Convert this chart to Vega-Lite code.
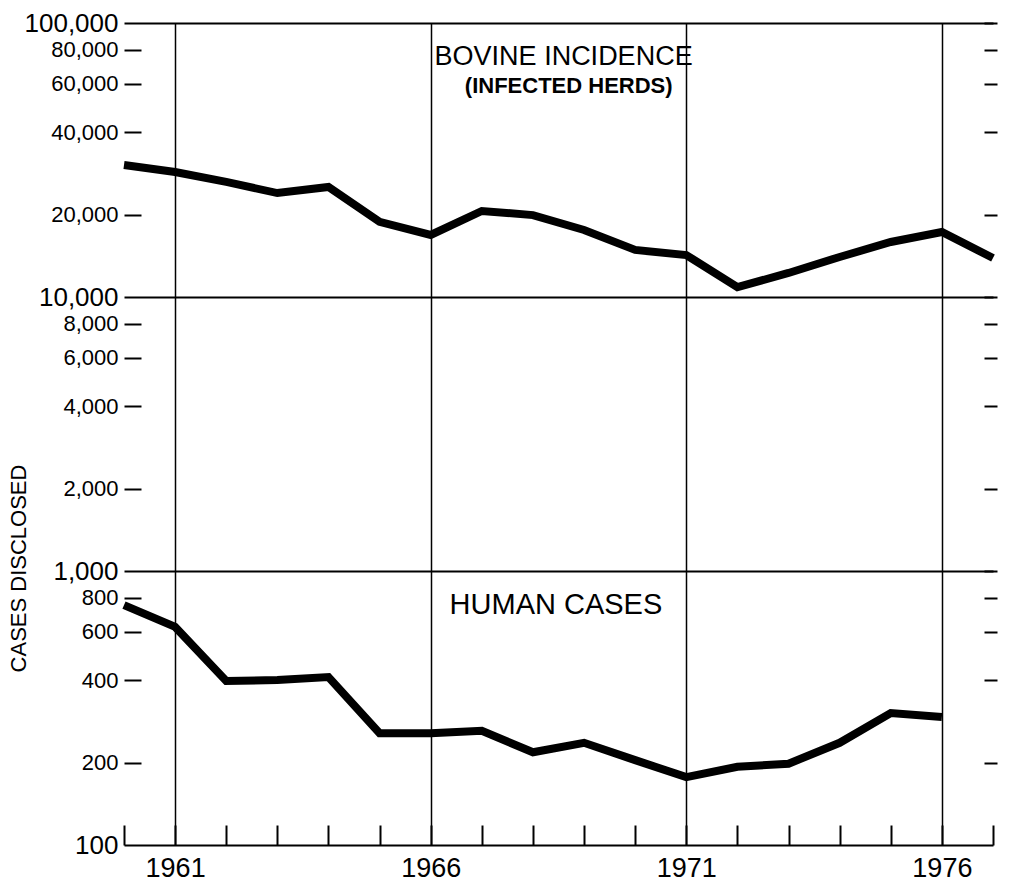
{
  "$schema": "https://vega.github.io/schema/vega-lite/v6.json",
  "width": 869,
  "height": 822,
  "autosize": {"type": "none"},
  "padding": {"left": 124, "top": 23, "right": 20, "bottom": 37},
  "background": "white",
  "config": {
    "view": {"stroke": null},
    "font": "Liberation Sans",
    "axis": {"labelColor": "black", "titleColor": "black", "labelFont": "Liberation Sans", "titleFont": "Liberation Sans"}
  },
  "layer": [
    {
      "data": {
        "values": [
          {"series": "Bovine", "year": 1960, "cases": 30300},
          {"series": "Bovine", "year": 1961, "cases": 28600},
          {"series": "Bovine", "year": 1962, "cases": 26300},
          {"series": "Bovine", "year": 1963, "cases": 23950},
          {"series": "Bovine", "year": 1964, "cases": 25200},
          {"series": "Bovine", "year": 1965, "cases": 18800},
          {"series": "Bovine", "year": 1966, "cases": 16840},
          {"series": "Bovine", "year": 1967, "cases": 20600},
          {"series": "Bovine", "year": 1968, "cases": 19900},
          {"series": "Bovine", "year": 1969, "cases": 17570},
          {"series": "Bovine", "year": 1970, "cases": 14850},
          {"series": "Bovine", "year": 1971, "cases": 14230},
          {"series": "Bovine", "year": 1972, "cases": 10870},
          {"series": "Bovine", "year": 1973, "cases": 12240},
          {"series": "Bovine", "year": 1974, "cases": 14000},
          {"series": "Bovine", "year": 1975, "cases": 15880},
          {"series": "Bovine", "year": 1976, "cases": 17270},
          {"series": "Bovine", "year": 1977, "cases": 13880},
          {"series": "Human", "year": 1960, "cases": 751},
          {"series": "Human", "year": 1961, "cases": 625},
          {"series": "Human", "year": 1962, "cases": 397},
          {"series": "Human", "year": 1963, "cases": 400},
          {"series": "Human", "year": 1964, "cases": 410},
          {"series": "Human", "year": 1965, "cases": 256},
          {"series": "Human", "year": 1966, "cases": 256},
          {"series": "Human", "year": 1967, "cases": 261},
          {"series": "Human", "year": 1968, "cases": 218},
          {"series": "Human", "year": 1969, "cases": 236},
          {"series": "Human", "year": 1970, "cases": 204},
          {"series": "Human", "year": 1971, "cases": 177},
          {"series": "Human", "year": 1972, "cases": 193},
          {"series": "Human", "year": 1973, "cases": 198},
          {"series": "Human", "year": 1974, "cases": 236},
          {"series": "Human", "year": 1975, "cases": 303},
          {"series": "Human", "year": 1976, "cases": 293}
        ]
      },
      "mark": {"type": "line", "color": "black", "strokeWidth": 8, "strokeJoin": "miter", "strokeCap": "butt"},
      "encoding": {
        "x": {
          "field": "year", "type": "quantitative",
          "scale": {"domain": [1960, 1977], "nice": false, "zero": false},
          "axis": {
            "orient": "bottom", "title": null,
            "values": [1960,1961,1962,1963,1964,1965,1966,1967,1968,1969,1970,1971,1972,1973,1974,1975,1976,1977],
            "format": "d",
            "labelExpr": "indexof([1961,1966,1971,1976], datum.value) >= 0 ? datum.label : ''",
            "labelFontSize": 27, "labelPadding": 30,
            "domainColor": "black", "domainWidth": 2,
            "tickColor": "black", "tickWidth": 2, "tickSize": -20,
            "grid": true, "gridColor": "black", "gridWidth": 1.5,
            "gridOpacity": {"condition": {"test": "indexof([1961,1966,1971,1976], datum.value) >= 0", "value": 1}, "value": 0}
          }
        },
        "y": {
          "field": "cases", "type": "quantitative",
          "scale": {"type": "log", "domain": [100, 100000], "nice": false},
          "axis": {
            "orient": "left",
            "title": "CASES DISCLOSED", "titleFontSize": 22, "titleFontWeight": "normal",
            "titleAngle": -90, "titleX": -106, "titleY": 545, "titleAlign": "center", "titleBaseline": "middle",
            "values": [100,200,400,600,800,1000,2000,4000,6000,8000,10000,20000,40000,60000,80000,100000],
            "format": ",",
            "domain": false,
            "labelFontSize": {"condition": {"test": "indexof([100,1000,10000,100000], datum.value) >= 0", "value": 26}, "value": 22},
            "labelPadding": 23,
            "tickColor": "black", "tickWidth": 2, "tickSize": -17,
            "tickOpacity": {"condition": {"test": "indexof([100,1000,10000,100000], datum.value) >= 0", "value": 0}, "value": 1},
            "grid": true, "gridColor": "black", "gridWidth": 2,
            "gridOpacity": {"condition": {"test": "indexof([1000,10000,100000], datum.value) >= 0", "value": 1}, "value": 0}
          }
        },
        "detail": {"field": "series", "type": "nominal"}
      }
    },
    {
      "data": {"values": [{"label": "BOVINE INCIDENCE", "year": 1968.6, "cases": 75100}]},
      "mark": {"type": "text", "fontSize": 27, "font": "Liberation Sans", "color": "black", "align": "center", "baseline": "middle"},
      "encoding": {
        "x": {"field": "year", "type": "quantitative", "scale": {"domain": [1960, 1977], "nice": false, "zero": false}, "axis": null},
        "y": {
          "field": "cases", "type": "quantitative",
          "scale": {"type": "log", "domain": [100, 100000], "nice": false},
          "axis": {
            "orient": "right", "title": null, "labels": false, "domain": false, "grid": false,
            "values": [200,400,600,800,1000,2000,4000,6000,8000,10000,20000,40000,60000,80000,100000],
            "tickColor": "black", "tickWidth": 2, "tickSize": 13, "offset": -9
          }
        },
        "text": {"field": "label"}
      }
    },
    {
      "data": {"values": [{"label": "(INFECTED HERDS)", "year": 1968.7, "cases": 58900}]},
      "mark": {"type": "text", "fontSize": 22, "fontWeight": "bold", "font": "Liberation Sans", "color": "black", "align": "center", "baseline": "middle"},
      "encoding": {
        "x": {"field": "year", "type": "quantitative", "scale": {"domain": [1960, 1977], "nice": false, "zero": false}, "axis": null},
        "y": {"field": "cases", "type": "quantitative", "scale": {"type": "log", "domain": [100, 100000], "nice": false}, "axis": null},
        "text": {"field": "label"}
      }
    },
    {
      "data": {"values": [{"label": "HUMAN CASES", "year": 1968.45, "cases": 751}]},
      "mark": {"type": "text", "fontSize": 29, "font": "Liberation Sans", "color": "black", "align": "center", "baseline": "middle"},
      "encoding": {
        "x": {"field": "year", "type": "quantitative", "scale": {"domain": [1960, 1977], "nice": false, "zero": false}, "axis": null},
        "y": {"field": "cases", "type": "quantitative", "scale": {"type": "log", "domain": [100, 100000], "nice": false}, "axis": null},
        "text": {"field": "label"}
      }
    }
  ],
  "resolve": {"axis": {"y": "independent", "x": "independent"}}
}
